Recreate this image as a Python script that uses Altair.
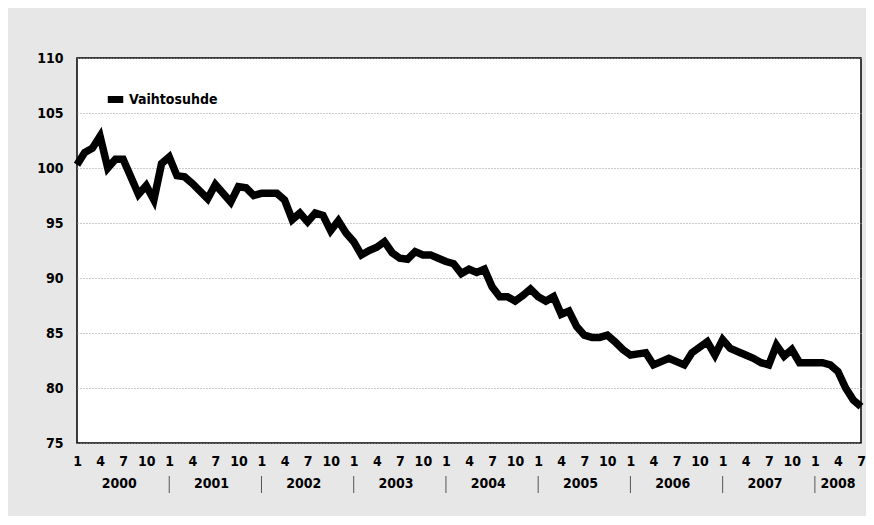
import altair as alt
import pandas as pd

FONT = "Liberation Sans Narrow, DejaVu Sans Condensed, sans-serif"

series_name = "Vaihtosuhde"
years = [2000, 2001, 2002, 2003, 2004, 2005, 2006, 2007, 2008]
values = [
    # 2000
    100.3, 101.4, 101.8, 102.9, 100.0, 100.8, 100.8, 99.2, 97.6, 98.4, 97.1, 100.4,
    # 2001
    101.0, 99.3, 99.2, 98.6, 97.9, 97.2, 98.5, 97.7, 96.9, 98.3, 98.2, 97.5,
    # 2002
    97.7, 97.7, 97.7, 97.1, 95.3, 95.9, 95.1, 95.9, 95.7, 94.3, 95.2, 94.1,
    # 2003
    93.3, 92.1, 92.5, 92.8, 93.3, 92.3, 91.8, 91.7, 92.4, 92.1, 92.1, 91.8,
    # 2004
    91.5, 91.3, 90.4, 90.8, 90.5, 90.8, 89.2, 88.3, 88.3, 87.9, 88.4, 89.0,
    # 2005
    88.3, 87.9, 88.3, 86.7, 87.0, 85.6, 84.8, 84.6, 84.6, 84.8, 84.2, 83.5,
    # 2006
    83.0, 83.1, 83.2, 82.1, 82.4, 82.7, 82.4, 82.1, 83.2, 83.7, 84.2, 83.0,
    # 2007
    84.4, 83.6, 83.3, 83.0, 82.7, 82.3, 82.1, 83.9, 82.9, 83.5, 82.3, 82.3,
    # 2008
    82.3, 82.3, 82.1, 81.5, 80.0, 78.9, 78.3,
]
y_ticks = [75, 80, 85, 90, 95, 100, 105, 110]
month_ticks = [1, 4, 7, 10]

n = len(values)
last = n - 1
df = pd.DataFrame({"t": list(range(n)), "v": values, "sarja": [series_name] * n})

tick_vals = [i for i in range(n) if (i % 12) + 1 in month_ticks]

year_rows = []
for k, yr in enumerate(years):
    start = k * 12
    end = min(start + 11, last)
    year_rows.append({"t": (start + end) / 2, "label": str(yr)})
df_years = pd.DataFrame(year_rows)
df_sep = pd.DataFrame({"t": [k * 12 for k in range(1, len(years))]})

W, H = 784, 385

x_enc = alt.X(
    "t:Q",
    scale=alt.Scale(domain=[0, last], nice=False, zero=False),
    axis=alt.Axis(values=tick_vals, labelExpr="(datum.value % 12) + 1",
                  title=None, grid=False, ticks=False, domain=False,
                  labelPadding=11, labelFontSize=14, labelFontWeight="bold",
                  labelFont=FONT, labelColor="black", labelOverlap=False,
                  labelFlush=False, labelBound=False),
)

line = alt.Chart(df).mark_line(strokeWidth=7.5, strokeJoin="miter").encode(
    x=x_enc,
    y=alt.Y("v:Q", scale=alt.Scale(domain=[75, 110], nice=False, zero=False),
            axis=alt.Axis(values=y_ticks, title=None, ticks=False, domain=False,
                          labelPadding=14, labelFontSize=14, labelFontWeight="bold",
                          labelFont=FONT, labelColor="black",
                          grid=True, gridDash=[1, 2], gridColor="#999999",
                          gridWidth=1)),
    color=alt.Color("sarja:N", scale=alt.Scale(range=["black"]),
                    legend=alt.Legend(title=None, orient="none", legendX=27, legendY=30,
                                      symbolType="stroke", symbolStrokeWidth=7,
                                      symbolSize=240, labelFontSize=14,
                                      labelFont=FONT, labelFontWeight="bold",
                                      labelColor="black", labelOffset=2)),
)

year_text = alt.Chart(df_years).mark_text(
    fontSize=14, fontWeight="bold", font=FONT, color="black", baseline="middle"
).encode(
    x=x_enc,
    y=alt.value(H + 41),
    text="label:N",
)

seps = alt.Chart(df_sep).mark_rule(color="#555555", strokeWidth=1).encode(
    x=x_enc,
    y=alt.value(H + 33),
    y2=alt.value(H + 50),
)

chart = alt.layer(line, year_text, seps).properties(
    width=W, height=H,
    autosize=alt.AutoSizeParams(type="none"),
    padding={"left": 69, "top": 50, "right": 5, "bottom": 73},
).configure(
    background="#e7e7e7",
).configure_view(
    fill="white", stroke="black", strokeWidth=1.5,
)

chart.save("out.html", embed_options={"renderer": "svg", "actions": False})
